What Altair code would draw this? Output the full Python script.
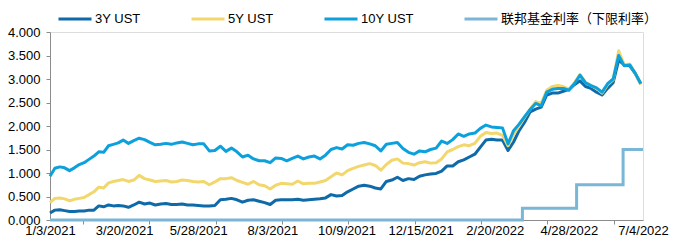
import altair as alt
import numpy as np
import pandas as pd

series_names = ["3Y UST", "5Y UST", "10Y UST", "联邦基金利率（下限利率）"]
series_colors = ["#0e6aa8", "#f2d76c", "#0ca0dc", "#7ab6d6"]

# one observation every 5 days from 2021-01-03
obs_dates = pd.date_range("2021-01-03", periods=110, freq="5D")

ust_3y = [0.15, 0.21, 0.22, 0.20, 0.18, 0.18, 0.19, 0.19, 0.21, 0.21,
          0.30, 0.28, 0.32, 0.30, 0.31, 0.30, 0.27, 0.32, 0.38, 0.34,
          0.36, 0.32, 0.34, 0.35, 0.33, 0.33, 0.34, 0.32, 0.32, 0.31,
          0.30, 0.30, 0.31, 0.43, 0.44, 0.46, 0.43, 0.38, 0.42, 0.43,
          0.40, 0.37, 0.33, 0.42, 0.43, 0.43, 0.43, 0.44, 0.42, 0.43,
          0.44, 0.45, 0.47, 0.54, 0.51, 0.52, 0.60, 0.66, 0.72, 0.74,
          0.72, 0.68, 0.66, 0.82, 0.85, 0.91, 0.84, 0.88, 0.86, 0.93,
          0.96, 0.98, 0.99, 1.04, 1.15, 1.15, 1.24, 1.28, 1.34, 1.40,
          1.55, 1.70, 1.72, 1.70, 1.70, 1.48, 1.66, 1.90, 2.08, 2.30,
          2.36, 2.40, 2.66, 2.70, 2.70, 2.74, 2.78, 2.88, 2.96, 2.84,
          2.80, 2.72, 2.66, 2.80, 2.92, 3.40, 3.30, 3.28, 3.12, 2.90]

ust_5y = [0.37, 0.46, 0.47, 0.45, 0.41, 0.44, 0.46, 0.48, 0.54, 0.60,
          0.70, 0.68, 0.79, 0.82, 0.84, 0.86, 0.82, 0.85, 0.95, 0.88,
          0.85, 0.82, 0.83, 0.84, 0.81, 0.82, 0.85, 0.84, 0.82, 0.81,
          0.82, 0.75, 0.81, 0.88, 0.88, 0.90, 0.84, 0.80, 0.76, 0.82,
          0.75, 0.73, 0.66, 0.74, 0.78, 0.77, 0.76, 0.83, 0.77, 0.78,
          0.78, 0.81, 0.84, 0.92, 1.00, 0.96, 1.05, 1.10, 1.14, 1.17,
          1.20, 1.16, 1.06, 1.18, 1.27, 1.30, 1.21, 1.20, 1.17, 1.22,
          1.24, 1.21, 1.22, 1.30, 1.45, 1.50, 1.56, 1.60, 1.58, 1.63,
          1.78, 1.86, 1.84, 1.85, 1.80, 1.58, 1.82, 2.00, 2.18, 2.36,
          2.52, 2.48, 2.76, 2.84, 2.86, 2.84, 2.78, 2.92, 3.10, 2.93,
          2.86, 2.80, 2.70, 2.88, 2.98, 3.60, 3.30, 3.32, 3.12, 2.88]

ust_10y = [0.93, 1.10, 1.13, 1.11, 1.05, 1.11, 1.18, 1.22, 1.29, 1.36,
           1.45, 1.44, 1.58, 1.61, 1.64, 1.70, 1.63, 1.69, 1.74, 1.71,
           1.65, 1.60, 1.61, 1.63, 1.61, 1.64, 1.66, 1.63, 1.60, 1.62,
           1.62, 1.47, 1.48, 1.57, 1.46, 1.53, 1.45, 1.34, 1.38, 1.30,
           1.26, 1.26, 1.22, 1.32, 1.31, 1.26, 1.31, 1.36, 1.30, 1.34,
           1.36, 1.30, 1.38, 1.50, 1.54, 1.51, 1.60, 1.59, 1.63, 1.65,
           1.62, 1.58, 1.47, 1.61, 1.63, 1.65, 1.52, 1.44, 1.40, 1.47,
           1.45, 1.50, 1.53, 1.68, 1.63, 1.71, 1.83, 1.78, 1.83, 1.85,
           1.95, 2.02, 1.98, 1.97, 1.96, 1.62, 1.90, 2.04, 2.20, 2.35,
           2.48, 2.43, 2.72, 2.78, 2.80, 2.80, 2.76, 2.90, 3.08, 2.92,
           2.86, 2.81, 2.72, 2.90, 3.00, 3.50, 3.28, 3.30, 3.12, 2.90]

fed_dates = ["2021-01-03", "2022-03-17", "2022-05-05", "2022-06-16", "2022-07-04"]
fed_rate = [0.0, 0.25, 0.75, 1.5, 1.5]

label_dates = ["2021-01-03", "2021-03-20", "2021-05-28", "2021-08-03", "2021-10-09",
               "2021-12-15", "2022-02-20", "2022-04-28", "2022-07-04"]
label_text = ["1/3/2021", "3/20/2021", "5/28/2021", "8/3/2021", "10/9/2021",
              "12/15/2021", "2/20/2022", "4/28/2022", "7/4/2022"]
y_ticks = [0, 0.5, 1.0, 1.5, 2.0, 2.5, 3.0, 3.5, 4.0]

# ---------------------------------------------------------------
# category-style date axis: the labelled dates sit at equal spacing
label_ord = np.array([pd.Timestamp(s).toordinal() for s in label_dates], dtype=float)
label_idx = np.arange(len(label_dates), dtype=float)


def axis_pos(dates):
    ords = np.array([pd.Timestamp(d).toordinal() for d in dates], dtype=float)
    return np.interp(ords, label_ord, label_idx)


frames = []
for name, vals in zip(series_names[:3], [ust_3y, ust_5y, ust_10y]):
    frames.append(pd.DataFrame({"pos": axis_pos(obs_dates), "value": vals, "series": name}))
yields = pd.concat(frames, ignore_index=True)
fed = pd.DataFrame({"pos": axis_pos(fed_dates), "value": fed_rate, "series": series_names[3]})

W, H = 593, 188
n_lab = len(label_dates)
label_js = "[" + ",".join("'%s'" % t for t in label_text) + "]"
minor_ticks = [0.446 + 0.895 * k for k in range(9)]

x_scale = alt.Scale(domain=[0, n_lab - 1], nice=False, zero=False)
x_main = alt.X("pos:Q", scale=x_scale,
               axis=alt.Axis(values=list(range(n_lab)), labelExpr=label_js + "[round(datum.value)]",
                             title=None, ticks=False, labelFontSize=13, labelColor="#000000",
                             labelPadding=4, labelFlush=False, labelOverlap=False,
                             domainColor="#8c8c8c", grid=False))
x_ticks = alt.X("pos:Q", scale=x_scale,
                axis=alt.Axis(values=minor_ticks, labels=False, title=None, domain=False,
                              ticks=True, tickSize=4, tickColor="#8c8c8c", grid=False,
                              orient="bottom"))
y_enc = alt.Y("value:Q", scale=alt.Scale(domain=[0, 4], nice=False),
              axis=alt.Axis(values=y_ticks, format=".3f", title=None, labelFontSize=13,
                            labelColor="#000000", tickSize=4, tickColor="#8c8c8c",
                            domainColor="#8c8c8c", labelPadding=6, grid=False))
color_enc = alt.Color("series:N", scale=alt.Scale(domain=series_names, range=series_colors),
                      sort=series_names,
                      legend=alt.Legend(title=None, orient="none", direction="horizontal",
                                        legendX=7, legendY=-31, symbolType="stroke",
                                        symbolSize=1089, symbolStrokeWidth=3,
                                        labelFontSize=13, labelColor="#000000",
                                        labelOffset=2, columnPadding=44, padding=0,
                                        gridAlign="none", labelLimit=300))

lines = alt.Chart(yields).mark_line(strokeWidth=3, strokeJoin="round").encode(
    x=x_main, y=y_enc, color=color_enc, order=alt.Order("pos:Q"))
fed_line = alt.Chart(fed).mark_line(strokeWidth=3, interpolate="step-after").encode(
    x=x_ticks, y=y_enc, color=color_enc)

chart = alt.layer(lines, fed_line).resolve_axis(x="independent").properties(
    width=W, height=H,
    autosize=alt.AutoSizeParams(type="none"),
    padding={"left": 50, "top": 32, "right": 31, "bottom": 26},
    background="#ffffff",
).configure_view(stroke=None).configure(
    font="Liberation Sans, Arial, Noto Sans CJK SC"
).configure_legend(labelFont="Liberation Sans, Noto Sans CJK SC").configure_axis(
    labelFont="Liberation Sans, Arial")

chart.save("out.html", embed_options={"renderer": "svg", "actions": False})
